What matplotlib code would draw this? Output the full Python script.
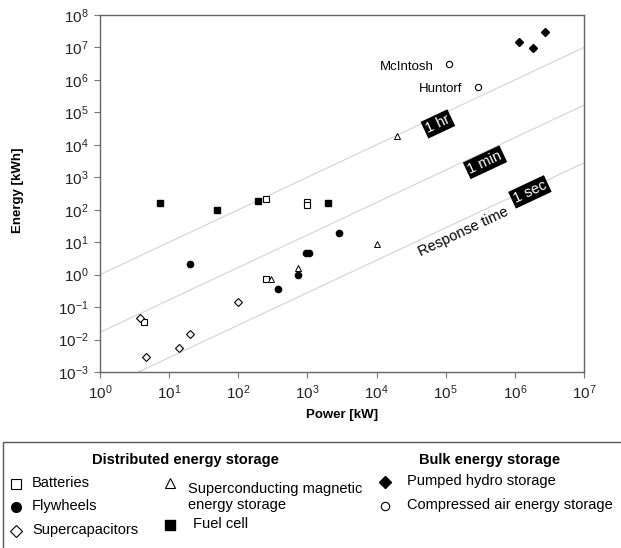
import numpy as np
import matplotlib
matplotlib.use("Agg")
import matplotlib.pyplot as plt
from matplotlib.patches import Rectangle
from matplotlib.ticker import LogLocator

plt.rcParams["font.family"] = ["Liberation Sans", "DejaVu Sans"]
plt.rcParams["mathtext.default"] = "regular"

# power [kW], energy [kWh]
batt_p = [4.4, 250, 250, 1000, 1000]
batt_e = [0.035, 0.74, 209, 170, 135]
fly_p = [20, 370, 740, 950, 1070, 2900]
fly_e = [2.1, 0.36, 1.0, 4.5, 4.8, 19]
scap_p = [3.8, 4.6, 14, 20, 100]
scap_e = [0.047, 0.003, 0.0054, 0.015, 0.14]
smes_p = [300, 740, 10000, 20000]
smes_e = [0.72, 1.6, 8.7, 19000]
fuel_p = [7.4, 49, 195, 2000]
fuel_e = [166, 98, 182, 166]
phs_p = [1.15e6, 1.8e6, 2.7e6]
phs_e = [1.5e7, 9.5e6, 2.9e7]
caes_p = [1.1e5, 2.9e5]
caes_e = [3.0e6, 6.0e5]
caes_names = ["McIntosh", "Huntorf"]

# response time lines, hours
resp_hours = [1.0, 1 / 60, 1 / 3600]
resp_labels = ["1 hr", "1 min", "1 sec"]
resp_label_pos = [(7.7e4, 4.4e4), (3.7e5, 2.9e3), (1.65e6, 355)]

fig = plt.figure(figsize=(6.21, 5.48), dpi=100)
W, H = 621, 548
ax = fig.add_axes([100 / W, 1 - 372 / H, 484 / W, 357 / H])
ax.set_xscale("log")
ax.set_yscale("log")
ax.set_xlim(1, 1e7)
ax.set_ylim(1e-3, 1e8)
ax.xaxis.set_major_locator(LogLocator(base=10, numticks=20))
ax.yaxis.set_major_locator(LogLocator(base=10, numticks=20))

px = np.logspace(0, 7, 50)
for t in resp_hours:
    ax.plot(px, px * t, color="#d4d4d4", lw=0.8, zorder=1)

# angle of slope-1 line on screen
ang = np.degrees(np.arctan((357 / 11) / (484 / 7)))
for (x, y), lab in zip(resp_label_pos, resp_labels):
    ax.text(x, y, lab, rotation=ang, rotation_mode="anchor", ha="center", va="center",
            color="white", fontsize=10.5,
            bbox=dict(boxstyle="square,pad=0.15", fc="black", ec="none"), zorder=4)
ax.text(1.78e5, 20.5, "Response time", rotation=ang, rotation_mode="anchor",
        ha="center", va="center", fontsize=10.5, zorder=4)

ax.plot(batt_p, batt_e, "s", ms=4.5, mfc="white", mec="black", mew=0.8, ls="none", zorder=3)
ax.plot(fly_p, fly_e, "o", ms=4.5, color="black", ls="none", zorder=3)
ax.plot(scap_p, scap_e, "D", ms=3.8, mfc="white", mec="black", mew=0.8, ls="none", zorder=3)
ax.plot(smes_p, smes_e, "^", ms=4, mfc="white", mec="black", mew=0.7, ls="none", zorder=3)
ax.plot(fuel_p, fuel_e, "s", ms=5, color="black", ls="none", zorder=3)
ax.plot(phs_p, phs_e, "D", ms=4.5, color="black", ls="none", zorder=3)
ax.plot(caes_p, caes_e, "o", ms=4.5, mfc="white", mec="black", mew=0.8, ls="none", zorder=3)

for p, e, name, dy in zip(caes_p, caes_e, caes_names, [-3, -2]):
    ax.annotate(name, (p, e), xytext=(-15, dy), textcoords="offset pixels",
                ha="right", va="center", fontsize=9.5)

ax.minorticks_off()
ax.tick_params(which="major", direction="out", length=4, width=0.8, color="#777777",
               labelsize=11, labelcolor="#222222", pad=4)
for s in ax.spines.values():
    s.set_color("#666666")
    s.set_linewidth(1)

ax.set_xlabel("Power [kW]", fontsize=9.5, fontweight="bold")
ax.xaxis.set_label_coords(0.5, -37 / 357)
ax.set_ylabel("Energy [kWh]", fontsize=9.5, fontweight="bold")
ax.yaxis.set_label_coords(-76 / 484, 0.51)

# legend panel, laid out in pixel coordinates
lax = fig.add_axes([0, 0, 1, 1], zorder=-1)
lax.set_xlim(0, W)
lax.set_ylim(H, 0)
lax.axis("off")
lax.add_patch(Rectangle((2.5, 441.5), W + 10, 120, fill=False, ec="#555555", lw=1))

fs = 10.5
lax.text(185, 460, "Distributed energy storage", ha="center", va="center",
         fontsize=fs, fontweight="bold")
lax.text(490, 460, "Bulk energy storage", ha="center", va="center",
         fontsize=fs, fontweight="bold")

leg_items = [
    (16, 484, "s", dict(mfc="white", mec="black", ms=7, mew=0.8), 32, "Batteries"),
    (16, 507, "o", dict(color="black", ms=7), 32, "Flywheels"),
    (16, 531, "D", dict(mfc="white", mec="black", ms=6, mew=0.8), 32, "Supercapacitors"),
    (170, 483, "^", dict(mfc="white", mec="black", ms=6.5, mew=0.8), 188,
     "Superconducting magnetic\nenergy storage"),
    (170, 525, "s", dict(color="black", ms=7), 193, "Fuel cell"),
    (385, 482, "D", dict(color="black", ms=6.5), 407, "Pumped hydro storage"),
    (385, 506, "o", dict(mfc="white", mec="black", ms=6, mew=0.8), 407,
     "Compressed air energy storage"),
]
for mx, my, mk, kw, tx, lab in leg_items:
    lax.plot([mx], [my], mk, ls="none", **kw)
    lax.text(tx, my - 1, lab, ha="left", va="top" if "\n" in lab else "center",
             fontsize=fs, linespacing=1.2)

fig.savefig("out.png", dpi=100)
